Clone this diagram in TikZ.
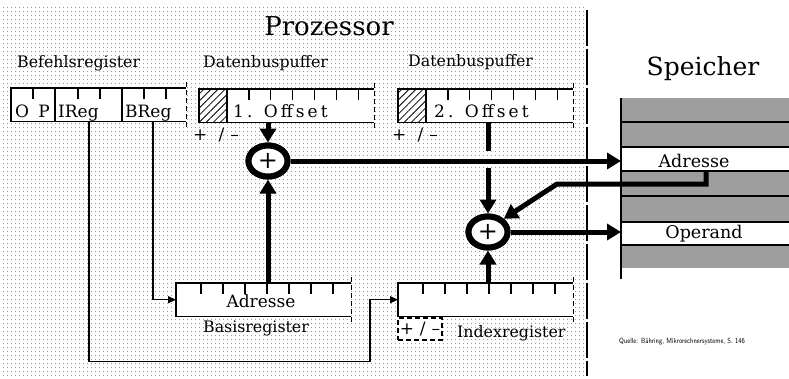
\documentclass[tikz,border=0pt]{standalone}
\usepackage{fontspec}
\setmainfont{DejaVu Serif}
\usetikzlibrary{positioning, calc, arrows.meta, shapes.geometric, patterns.meta}

\begin{document}
\begin{tikzpicture}[
  x=1pt, y=-1pt,
  font=\fontsize{15.8}{17}\selectfont,
  reg/.style={fill=white, minimum width=175pt, minimum height=33pt,
              inner sep=0pt, anchor=north west},
  frame/.style={line width=1.2pt},
  tick/.style={line width=1.2pt},
  regedge/.style={line width=1.2pt, dash pattern=on 5pt off 3pt},
  hatch/.style={pattern={Lines[angle=45,distance=5pt,line width=0.8pt]}},
  cell/.style={inner sep=0pt, font=\fontsize{17}{19}\selectfont},
  spaced/.style={font=\fontsize{17}{19}\selectfont\addfontfeatures{LetterSpace=18}},
  sign/.style={inner sep=0pt, font=\fontsize{17}{19}\selectfont\addfontfeatures{LetterSpace=35}},
  adder/.style={ellipse, draw, line width=6pt, fill=white,
                minimum width=39pt, minimum height=31pt, inner sep=0pt,
                font=\fontsize{24}{24}\selectfont},
  fat/.style={line width=5pt},
  fatarrow/.style={line width=5pt, -{Triangle[length=14pt,width=16pt]}},
  wirearrow/.style={line width=1.3pt, -{Triangle[length=8pt,width=7pt]}},
  lbl/.style={inner sep=0pt},
]
\useasboundingbox (0,0) rectangle (789,378);

% ---------- background ----------
\fill[pattern={Dots[distance=4pt,radius=0.55pt]}, pattern color=black!70]
  (3,4) rectangle (584,376);
\draw[line width=1.2pt, dash pattern=on 36pt off 3pt] (587,10) -- (587,376);

\node[lbl, font=\fontsize{26}{28}\selectfont, anchor=base] (procTitle) at (329,35) {Prozessor};
\node[lbl, font=\fontsize{25}{27}\selectfont, anchor=base] (memTitle) at (703,75) {Speicher};

% ---------- registers ----------
\node[reg] (befReg) at (11,88) {};
\node[reg] (offsOne) at (199,89) {};
\node[reg] (offsTwo) at (398,89) {};
\node[reg] (basisReg) at (176,283) {};
\node[reg] (indexReg) at (398,283) {};

\fill[hatch] (offsOne.north west) rectangle ([xshift=28pt]offsOne.south west);
\fill[hatch] (offsTwo.north west) rectangle ([xshift=28pt]offsTwo.south west);

\foreach \r in {befReg, offsOne, offsTwo, basisReg, indexReg} {
  \draw[frame] (\r.north east) -- (\r.north west) -- (\r.south west) -- (\r.south east);
  \draw[regedge] ([yshift=6pt]\r.north east) -- ([yshift=-6pt]\r.south east);
}
\foreach \r in {offsOne, offsTwo} {
  \draw[frame] ([xshift=28pt]\r.north west) -- ([xshift=28pt]\r.south west);
  \foreach \t in {1,...,6}
    \draw[tick] ([xshift=28pt+\t*21.9pt]\r.north west) -- ++(0,11);
}
\foreach \r in {basisReg, indexReg}
  \foreach \t in {0,...,6}
    \draw[tick] ([xshift=25pt+\t*22pt]\r.north west) -- ++(0,11);

% Befehlsregister fields
\foreach \t in {22,67,89,133,155}
  \draw[tick] ([xshift=\t pt]befReg.north west) -- ++(0,11);
\foreach \t in {44,111}
  \draw[frame] ([xshift=\t pt]befReg.north west) -- ([xshift=\t pt]befReg.south west);

\node[cell, anchor=base] (opO) at (22,117) {O};
\node[cell, anchor=base] (opP) at (44,117) {P};
\node[cell, anchor=base west] (iReg) at (58,117) {IReg};
\node[cell, anchor=base west] (bReg) at (125,117) {BReg};
\node[cell, spaced, anchor=base west] (offOneTxt) at (233,117) {1. Offset};
\node[cell, spaced, anchor=base west] (offTwoTxt) at (434,117) {2. Offset};
\node[cell, anchor=base] (basisAdr) at (261,307) {Adresse};

% ---------- labels ----------
\node[lbl, anchor=base west] (befLbl) at (17,67) {Befehlsregister};
\node[lbl, anchor=base west] (dbOneLbl) at (203,67) {Datenbuspuffer};
\node[lbl, anchor=base west] (dbTwoLbl) at (408,66) {Datenbuspuffer};
\node[lbl, anchor=base] (basisLbl) at (256,332) {Basisregister};
\node[lbl, anchor=base west] (indexLbl) at (457,337) {Indexregister};
\node[sign] (signOne) at (216,135) {+ /--};
\node[sign] (signTwo) at (415,135) {+ /--};
\node[sign, draw, line width=1.2pt, dash pattern=on 5pt off 3pt, fill=white,
      minimum width=44pt, minimum height=22pt] (signIdx)
  at (420,329) {+/--};

% ---------- memory ----------
\coordinate (memEdge) at (621,98);
\foreach \ya/\yb in {98/122, 122/147, 171/196, 196/222, 245/268}
  \fill[black!38] (621,\ya) rectangle (789,\yb);
\foreach \yl in {122, 147, 171, 196, 222, 245}
  \draw[frame] (621,\yl) -- (789,\yl);
\draw[frame] (memEdge) -- (621,279);
\node[cell, font=\fontsize{17.5}{19}\selectfont, anchor=base] (memAdr) at (694,167) {Adresse};
\node[cell, font=\fontsize{17.5}{19}\selectfont, anchor=base] (memOp) at (704,238) {Operand};
\coordinate (adrOut) at (706,171);

\node[lbl, font=\fontsize{7.5}{8}\sffamily, anchor=west] (quelle) at (619,342)
  {\scalebox{0.82}[1]{Quelle: Bähring, Mikrorechnersysteme, S. 146}};

% ---------- adders ----------
\node[adder] (adderA) at (268,161) {};
\node[adder] (adderB) at (488,232) {};

\draw[fatarrow] (adderA |- offsOne.south) -- (adderA.north);
\draw[fatarrow] (adderA |- basisReg.north) -- (adderA.south);
\draw[fatarrow] (adderA.east) -- (adderA -| memEdge);

\draw[fat] (adderB |- offsTwo.south) -- ([yshift=10pt]adderB |- adderA.east);
\draw[fatarrow] ([yshift=-7pt]adderB |- adderA.east) -- (adderB.north);
\draw[fatarrow] (adderB |- indexReg.north) -- (adderB.south);
\draw[fatarrow] (adrOut) -- ++(0,13) -- ++(-149,0) -- (adderB.40);
\draw[fatarrow] (adderB.east) -- (adderB -| memEdge);

\node[adder] (adderA) at (268,161) {+};
\node[adder] (adderB) at (488,232) {+};

% ---------- register select wires ----------
\draw[wirearrow] ([xshift=142pt]befReg.south west) |- (basisReg.west);
\draw[wirearrow] ([xshift=78pt]befReg.south west) -- ++(0,240) -- ++(281,0) |- (indexReg.west);

\end{tikzpicture}
\end{document}
